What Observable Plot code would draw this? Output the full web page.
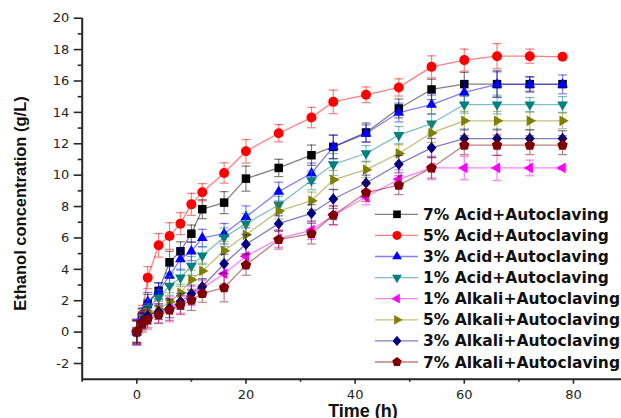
<!DOCTYPE html>
<html>
<head>
<meta charset="utf-8">
<script src="https://cdn.jsdelivr.net/npm/d3@7"></script>
<script src="https://cdn.jsdelivr.net/npm/@observablehq/plot@0.6"></script>
<style>
  html, body { margin: 0; padding: 0; background: #fff; overflow: hidden; }
  #chart svg { display: block; }
</style>
</head>
<body>
<div id="chart"></div>
<script>
// Fermentation time (h)
const times = [0, 1, 2, 4, 6, 8, 10, 12, 16, 20, 26, 32, 36, 42, 48, 54, 60, 66, 72, 78];

// Ethanol concentration (g/L) for each pretreatment
const acid7   = [0.05, 1.0, 1.8, 2.63, 4.45, 5.15, 6.27, 7.83, 8.25, 9.78, 10.46, 11.27, 11.8, 12.72, 14.25, 15.46, 15.8, 15.8, 15.8, 15.8];
const acid5   = [0.05, 1.1, 3.47, 5.53, 6.12, 6.91, 8.14, 8.91, 10.14, 11.52, 12.67, 13.67, 14.67, 15.12, 15.59, 16.9, 17.33, 17.58, 17.58, 17.54];
const acid3   = [0.0, 1.05, 1.93, 2.6, 3.6, 4.65, 5.15, 6.0, 6.27, 7.34, 8.95, 10.12, 11.8, 12.65, 13.99, 14.5, 15.27, 15.78, 15.78, 15.78];
const acid1   = [0.0, 0.95, 1.55, 2.2, 2.95, 3.47, 4.22, 4.87, 6.04, 6.91, 8.1, 9.67, 10.68, 11.38, 12.55, 13.29, 14.5, 14.5, 14.5, 14.5];
const alkali1 = [0.0, 0.6, 0.9, 1.2, 1.45, 1.75, 2.3, 2.8, 3.72, 4.83, 5.95, 6.5, 7.44, 8.61, 9.74, 10.46, 10.46, 10.46, 10.46, 10.46];
const alkali5 = [0.0, 0.8, 1.25, 1.45, 1.92, 2.5, 3.34, 3.9, 5.18, 6.2, 7.71, 8.37, 9.7, 10.35, 11.38, 12.69, 13.46, 13.46, 13.46, 13.46];
const alkali3 = [0.0, 0.7, 1.05, 1.3, 1.52, 1.95, 2.45, 2.89, 4.36, 5.6, 6.91, 7.57, 8.48, 9.5, 10.7, 11.74, 12.33, 12.33, 12.33, 12.33];
const alkali7 = [0.0, 0.5, 0.8, 1.1, 1.4, 1.72, 2.03, 2.45, 2.83, 4.27, 5.89, 6.27, 7.44, 8.88, 9.36, 10.46, 11.91, 11.91, 11.91, 11.91];

// Standard deviations (g/L)
const acid7Err   = [0.7, 0.5, 0.6, 0.5, 0.7, 0.6, 0.55, 0.6, 0.7, 0.8, 0.55, 0.65, 0.75, 0.6, 0.6, 0.65, 0.75, 0.85, 0.45, 0.2];
const acid5Err   = [0.7, 0.6, 0.7, 0.75, 0.85, 0.7, 0.7, 0.55, 0.65, 0.75, 0.55, 0.65, 0.75, 0.5, 0.55, 0.7, 0.7, 0.8, 0.45, 0.1];
const acid3Err   = [0.8, 0.5, 0.6, 0.55, 0.6, 0.7, 0.6, 0.55, 0.65, 0.7, 0.6, 0.65, 0.75, 0.55, 0.6, 0.6, 0.7, 0.8, 0.5, 0.6];
const acid1Err   = [0.8, 0.5, 0.55, 0.5, 0.6, 0.55, 0.6, 0.55, 0.6, 0.65, 0.55, 0.6, 0.7, 0.5, 0.55, 0.6, 0.55, 0.6, 0.45, 0.5];
const alkali1Err = [0.85, 0.5, 0.6, 0.6, 0.8, 0.55, 0.6, 0.5, 0.65, 0.7, 0.55, 0.6, 0.6, 0.5, 0.6, 0.75, 0.75, 0.8, 0.5, 0.1];
const alkali5Err = [0.7, 0.5, 0.55, 0.5, 0.6, 0.55, 0.6, 0.5, 0.6, 0.6, 0.5, 0.55, 0.6, 0.5, 0.55, 0.6, 0.6, 0.6, 0.55, 0.5];
const alkali3Err = [0.7, 0.5, 0.55, 0.5, 0.6, 0.5, 0.55, 0.5, 0.6, 0.6, 0.5, 0.55, 0.6, 0.5, 0.55, 0.6, 0.6, 0.6, 0.55, 0.5];
const alkali7Err = [0.75, 0.5, 0.6, 0.55, 0.65, 0.6, 0.65, 0.55, 0.9, 0.65, 0.6, 0.65, 0.6, 0.55, 0.6, 0.65, 0.6, 0.65, 0.6, 0.6];

const seriesNames = [
  "7% Acid+Autoclaving", "5% Acid+Autoclaving", "3% Acid+Autoclaving", "1% Acid+Autoclaving",
  "1% Alkali+Autoclaving", "5% Alkali+Autoclaving", "3% Alkali+Autoclaving", "7% Alkali+Autoclaving"
];
const seriesValues = [acid7, acid5, acid3, acid1, alkali1, alkali5, alkali3, alkali7];
const seriesErrors = [acid7Err, acid5Err, acid3Err, acid1Err, alkali1Err, alkali5Err, alkali3Err, alkali7Err];
const seriesColors = ["#000000", "#ff0000", "#0000ff", "#008080", "#ff00ff", "#808000", "#000080", "#800000"];

const xMajorTicks = [0, 20, 40, 60, 80];
const xMinorTicks = [-10, 10, 30, 50, 70];
const yMajorTicks = [-2, 0, 2, 4, 6, 8, 10, 12, 14, 16, 18, 20];
const yMinorTicks = [-1, 1, 3, 5, 7, 9, 11, 13, 15, 17, 19];

// Marker shapes (size is the symbol area; rr the equivalent radius)
const rad = size => Math.sqrt(size / Math.PI);
function polygon(ctx, pts) {
  ctx.moveTo(pts[0][0], pts[0][1]);
  for (let i = 1; i < pts.length; ++i) ctx.lineTo(pts[i][0], pts[i][1]);
  ctx.closePath();
}
function regular(ctx, R, n, start) {
  const pts = [];
  for (let k = 0; k < n; ++k) {
    const a = (start + k * 360 / n) * Math.PI / 180;
    pts.push([R * Math.cos(a), R * Math.sin(a)]);
  }
  polygon(ctx, pts);
}
const symSquare   = {draw(ctx, size) { const s = rad(size) * 0.85; ctx.rect(-s, -s, 2 * s, 2 * s); }};
const symCircle   = {draw(ctx, size) { const r = rad(size); ctx.moveTo(r, 0); ctx.arc(0, 0, r, 0, 2 * Math.PI); }};
const symTriUp    = {draw(ctx, size) { regular(ctx, rad(size) * 1.25, 3, -90); }};
const symTriDown  = {draw(ctx, size) { regular(ctx, rad(size) * 1.25, 3, 90); }};
const symTriLeft  = {draw(ctx, size) { regular(ctx, rad(size) * 1.25, 3, 180); }};
const symTriRight = {draw(ctx, size) { regular(ctx, rad(size) * 1.25, 3, 0); }};
const symDiamond  = {draw(ctx, size) { const R = rad(size) * 1.15; polygon(ctx, [[0, -R], [R * 0.85, 0], [0, R], [-R * 0.85, 0]]); }};
const symPentagon = {draw(ctx, size) { regular(ctx, rad(size) * 1.1, 5, -90); }};
const symCap      = {draw(ctx, size) { const w = rad(size); ctx.moveTo(-w, 0); ctx.lineTo(w, 0); }};
const seriesSymbols = [symSquare, symCircle, symTriUp, symTriDown, symTriLeft, symTriRight, symDiamond, symPentagon];

// Long-format rows for each series
const tables = seriesNames.map((name, i) =>
  times.map((t, j) => ({
    series: name, t, v: seriesValues[i][j],
    lo: seriesValues[i][j] - seriesErrors[i][j],
    hi: seriesValues[i][j] + seriesErrors[i][j]
  }))
);

const seriesMarks = tables.flatMap((rows, i) => {
  const c = seriesColors[i];
  return [
    Plot.line(rows, {x: "t", y: "v", stroke: c, strokeOpacity: 0.5, strokeWidth: 1.3}),
    Plot.ruleX(rows, {x: "t", y1: "lo", y2: "hi", stroke: c, strokeOpacity: 0.5, strokeWidth: 1.2}),
    Plot.dot(rows, {x: "t", y: "lo", symbol: symCap, r: 4.5, fill: "none", stroke: c, strokeOpacity: 0.5, strokeWidth: 1.2}),
    Plot.dot(rows, {x: "t", y: "hi", symbol: symCap, r: 4.5, fill: "none", stroke: c, strokeOpacity: 0.5, strokeWidth: 1.2}),
    Plot.dot(rows, {x: "t", y: "v", symbol: seriesSymbols[i], r: 5, fill: c, stroke: "none"})
  ];
});

const axisColor = "#262626";
const chart = Plot.plot({
  width: 621,
  height: 418,
  marginLeft: 81.7,
  marginRight: 0,
  marginTop: 17.7,
  marginBottom: 39.3,
  style: {fontFamily: "'DejaVu Sans', sans-serif", fontSize: "13px", color: axisColor, background: "#fff"},
  x: {domain: [-10, 88.8]},
  y: {domain: [-3, 20]},
  marks: [
    ...seriesMarks,
    Plot.axisY(yMajorTicks, {tickSize: 8, tickPadding: 5, fontSize: 13, strokeWidth: 1.6, label: null, tickFormat: d => String(d)}),
    Plot.axisY(yMinorTicks, {tickSize: 4, tickFormat: () => "", strokeWidth: 1.6, label: null}),
    Plot.axisX(xMajorTicks, {tickSize: 5, tickPadding: 6, fontSize: 13, strokeWidth: 1.6, label: null, tickFormat: d => String(d)}),
    Plot.axisX(xMinorTicks, {tickSize: 3, tickFormat: () => "", strokeWidth: 1.6, label: null}),
    Plot.ruleX([-10], {stroke: axisColor, strokeWidth: 2}),
    Plot.ruleY([-3], {stroke: axisColor, strokeWidth: 2})
  ]
});

document.getElementById("chart").appendChild(chart);

// Axis titles and legend
const svg = d3.select(chart);

svg.append("text")
  .attr("transform", "translate(26,203.5) rotate(-90)")
  .attr("text-anchor", "middle")
  .attr("font-family", "'Liberation Sans', Arial, sans-serif")
  .attr("font-weight", "bold")
  .attr("font-size", 16.5)
  .attr("fill", "#111")
  .text("Ethanol concentration (g/L)");

svg.append("text")
  .attr("x", 363)
  .attr("y", 416.5)
  .attr("text-anchor", "middle")
  .attr("font-family", "'Liberation Sans', Arial, sans-serif")
  .attr("font-weight", "bold")
  .attr("font-size", 18)
  .attr("fill", "#111")
  .text("Time (h)");

const legend = svg.append("g").attr("text-anchor", "start");
seriesNames.forEach((name, i) => {
  const yy = 214.3 + i * 21.1;
  const row = legend.append("g").attr("transform", `translate(0,${yy})`);
  row.append("line")
    .attr("x1", 375).attr("x2", 418).attr("y1", 0).attr("y2", 0)
    .attr("stroke", seriesColors[i]).attr("stroke-opacity", 0.5).attr("stroke-width", 1.3);
  row.append("path")
    .attr("transform", "translate(397,0)")
    .attr("d", d3.symbol(seriesSymbols[i], Math.PI * 4.5 * 4.5)())
    .attr("fill", seriesColors[i]);
  row.append("text")
    .attr("x", 423)
    .attr("y", 0)
    .attr("dy", "0.36em")
    .attr("text-anchor", "start")
    .attr("font-family", "'DejaVu Sans', sans-serif")
    .attr("font-weight", "bold")
    .attr("font-size", 15.5)
    .attr("fill", "#111")
    .text(name);
});
</script>
</body>
</html>
